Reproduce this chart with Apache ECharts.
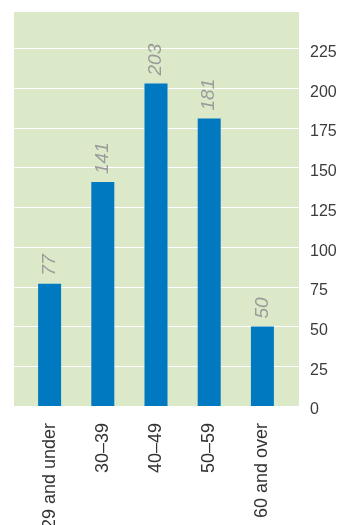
<!DOCTYPE html>
<html>
<head>
<meta charset="utf-8">
<script src="https://cdn.jsdelivr.net/npm/echarts@6/dist/echarts.min.js"></script>
<style>
  html, body { margin: 0; padding: 0; background: #ffffff; }
  #chart { width: 341px; height: 525px; }
</style>
</head>
<body>
<div id="chart"></div>
<script>
// Age groups and counts
const categories = ['29 and under', '30\u201339', '40\u201349', '50\u201359', '60 and over'];
const counts = [77, 141, 203, 181, 50];
const yTicks = { min: 0, max: 248, interval: 25 };

const FONT = '"Liberation Sans", Arial, Helvetica, sans-serif';

const chart = echarts.init(document.getElementById('chart'), null, { renderer: 'canvas' });

chart.setOption({
  backgroundColor: '#ffffff',
  animation: false,
  grid: [
    // panel with green fill, gridlines and the value scale
    { left: 14, right: 42, top: 12, bottom: 119, show: true, backgroundColor: '#dbe9c9', borderWidth: 0,
      containLabel: false, outerBoundsMode: 'none' },
    // narrower band that holds the bars
    { left: 23, right: 52, top: 12, bottom: 119, containLabel: false, outerBoundsMode: 'none' }
  ],
  xAxis: [
    { gridIndex: 0, type: 'category', data: categories, show: false },
    {
      gridIndex: 1, type: 'category', data: categories,
      axisLine: { show: false }, axisTick: { show: false },
      axisLabel: {
        rotate: 90, margin: 17, interval: 0,
        color: '#333333', fontFamily: FONT, fontSize: 18
      }
    }
  ],
  yAxis: [
    {
      gridIndex: 0, type: 'value', position: 'right',
      min: yTicks.min, max: yTicks.max, interval: yTicks.interval,
      axisLine: { show: false }, axisTick: { show: false },
      axisLabel: {
        margin: 11, align: 'left', verticalAlign: 'top', lineHeight: 8,
        color: '#3c3c3c', fontFamily: FONT, fontSize: 16,
        formatter: v => (v % yTicks.interval === 0 ? String(v) : '')
      },
      splitLine: { show: true, showMinLine: false, showMaxLine: false, lineStyle: { color: '#ffffff', width: 1.2 } }
    },
    {
      gridIndex: 1, type: 'value', show: false,
      min: yTicks.min, max: yTicks.max, interval: yTicks.interval,
      splitLine: { show: false }
    }
  ],
  series: [{
    type: 'bar',
    xAxisIndex: 1, yAxisIndex: 1,
    data: counts,
    barWidth: 23,
    itemStyle: { color: '#0079c1' },
    label: {
      show: true, position: 'top', rotate: 90, distance: 8,
      align: 'left', verticalAlign: 'middle',
      color: '#9b9b9b', fontStyle: 'italic', fontFamily: FONT, fontSize: 19
    }
  }]
});
</script>
</body>
</html>
